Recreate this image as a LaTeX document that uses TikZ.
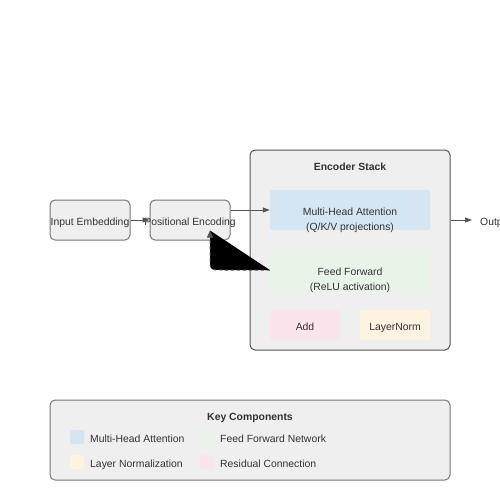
\documentclass[tikz,border=0pt]{standalone}
\usepackage{fontspec}
\setmainfont{Liberation Sans}
\usetikzlibrary{arrows.meta,calc}
\definecolor{boxfill}{HTML}{EFEFEF}
\definecolor{boxline}{HTML}{777777}
\definecolor{txt}{HTML}{333333}
\definecolor{arr}{HTML}{555555}
\definecolor{mhacol}{HTML}{D5E5F2}
\definecolor{ffcol}{HTML}{E8F4E8}
\definecolor{addcol}{HTML}{FBE4EC}
\definecolor{lncol}{HTML}{FEF2E0}
\tikzset{
  every node/.style={text=txt, font=\fontsize{10.4}{12}\selectfont, inner sep=0pt},
  lbl/.style={anchor=base},
  outerbox/.style={draw=boxline, fill=boxfill, rounded corners=5pt, line width=1pt},
  inbox/.style={rounded corners=2pt, draw=none},
  conn/.style={draw=arr, line width=1pt, -{Triangle[length=7pt,width=5pt]}},
  swatch/.style={minimum width=14pt, minimum height=14pt, rounded corners=1.5pt, anchor=north west},
  ttl/.style={anchor=base, font=\fontsize{10.4}{12}\selectfont\bfseries},
}
\begin{document}
\begin{tikzpicture}[x=1pt,y=-1pt]
\useasboundingbox (0,0) rectangle (500,500);
\clip (0,0) rectangle (500,500);
% input boxes
\node[outerbox, minimum width=80pt, minimum height=40pt] (ie) at (90,220) {};
\node[lbl] (iet) at (90,225) {Input Embedding};
\node[outerbox, minimum width=80pt, minimum height=40pt] (pe) at (190,220) {};
\node[lbl] (pet) at (190,225) {Positional Encoding};
% encoder stack
\node[outerbox, draw=arr, minimum width=200pt, minimum height=200pt] (enc) at (350,250) {};
\node[ttl] (enct) at (350,170) {Encoder Stack};
\node[inbox, fill=mhacol, minimum width=160pt, minimum height=40pt] (mha) at (350,210) {};
\node[lbl] (mhat1) at (350,215) {Multi-Head Attention};
\node[lbl] (mhat2) at (350,230) {(Q/K/V projections)};
\node[inbox, fill=ffcol, minimum width=160pt, minimum height=40pt] (ff) at (350,270) {};
\node[lbl] (fft1) at (350,275) {Feed Forward};
\node[lbl] (fft2) at (350,290) {(ReLU activation)};
\node[inbox, fill=addcol, minimum width=70pt, minimum height=30pt] (add) at (305,325) {};
\node[lbl] (addt) at (305,330) {Add};
\node[inbox, fill=lncol, minimum width=70pt, minimum height=30pt] (ln) at (395,325) {};
\node[lbl] (lnt) at (395,330) {LayerNorm};
% output
\coordinate (outend) at (472,220);
\node[anchor=base west] (outt) at (480,225) {Output};
% connectors
\draw[conn] (ie.east) -- (pe.west);
\draw[conn] (pe.east |- mha.west) -- (mha.west);
\draw[conn] (enc.east |- outend) -- (outend);
\coordinate (tip) at ([xshift=20pt,yshift=10pt]pe.south);
\coordinate (bend) at (tip |- ff.west);
\fill[black] (ff.west) -- ($(bend)+(12,0)$) .. controls (bend) .. ($(bend)+(0,-12)$) -- (tip) -- cycle;
\draw[dashed, draw=arr, line width=1pt, -{Triangle[length=7pt,width=6pt]}] (ff.west) -- ($(bend)+(12,0)$) .. controls (bend) .. ($(bend)+(0,-12)$) -- (tip);
% legend
\node[outerbox, minimum width=400pt, minimum height=80pt] (leg) at (250,440) {};
\node[ttl] (legt) at (250,420) {Key Components};
\node[swatch, fill=mhacol] (s1) at (70,430) {};
\node[anchor=base west] (l1) at (90,442) {Multi-Head Attention};
\node[swatch, fill=ffcol] (s2) at (200,430) {};
\node[anchor=base west] (l2) at (220,442) {Feed Forward Network};
\node[swatch, fill=lncol] (s3) at (70,455) {};
\node[anchor=base west] (l3) at (90,467) {Layer Normalization};
\node[swatch, fill=addcol] (s4) at (200,455) {};
\node[anchor=base west] (l4) at (220,467) {Residual Connection};
\end{tikzpicture}
\end{document}
